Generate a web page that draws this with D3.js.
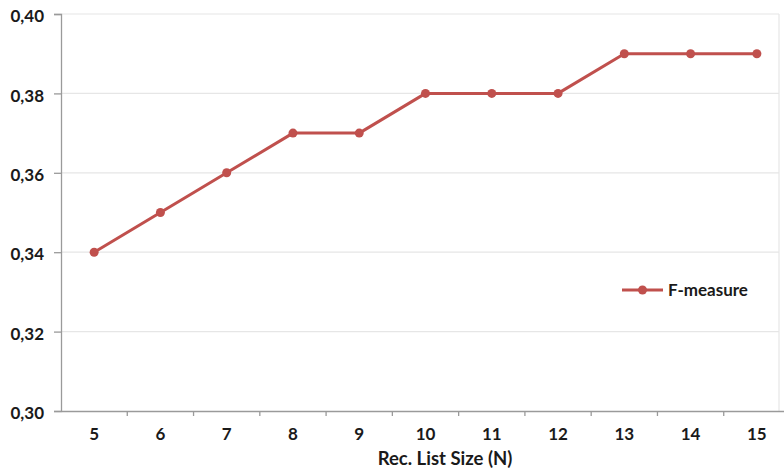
<!DOCTYPE html>
<html>
<head>
<meta charset="utf-8">
<script src="https://cdn.jsdelivr.net/npm/d3@7/dist/d3.min.js"></script>
<style>
  html, body { margin: 0; padding: 0; background: #fff; }
  svg { display: block; }
  text { font-family: Lato, "Open Sans", sans-serif; fill: #1a1a1a; }
</style>
</head>
<body>
<svg id="chart" width="784" height="471"></svg>
<script>
// Recommendation list sizes and the F-measure reached at each
const listSizes = [5, 6, 7, 8, 9, 10, 11, 12, 13, 14, 15];
const fMeasure = [0.34, 0.35, 0.36, 0.37, 0.37, 0.38, 0.38, 0.38, 0.39, 0.39, 0.39];
const yTicks = [0.30, 0.32, 0.34, 0.36, 0.38, 0.40];
const seriesName = "F-measure";
const xTitle = "Rec. List Size (N)";

const svg = d3.select("#chart");
const plotLeft = 61, plotTop = 14, plotBottom = 411, plotRight = 790, borderX = 779;
const red = "#c0504d";

const x = d3.scaleBand().domain(listSizes).range([plotLeft, plotRight]).padding(0);
const y = d3.scaleLinear().domain([0.30, 0.40]).range([plotBottom, plotTop]);

// light horizontal gridlines
svg.append("g").selectAll("line").data(yTicks.slice(1)).join("line")
  .attr("x1", plotLeft).attr("x2", borderX)
  .attr("y1", d => y(d)).attr("y2", d => y(d))
  .attr("stroke", "#e6e6e6").attr("stroke-width", 1.2);

// right border of plot area
svg.append("line").attr("x1", borderX).attr("x2", borderX).attr("y1", plotTop).attr("y2", plotBottom)
  .attr("stroke", "#e6e6e6").attr("stroke-width", 1.2);

// y axis
const yAxis = svg.append("g").attr("transform", `translate(${plotLeft},0)`)
  .call(d3.axisLeft(y).tickValues(yTicks).tickSize(7).tickPadding(10)
    .tickFormat(d => d3.format(".2f")(d).replace(".", ",")));
yAxis.select(".domain").attr("stroke", "#9a9a9a").attr("stroke-width", 1.3);
yAxis.selectAll(".tick line").attr("stroke", "#9a9a9a").attr("stroke-width", 1.3);
yAxis.selectAll(".tick text").style("font-size", "17px").style("font-weight", "700")
  .attr("fill", "#1a1a1a").attr("dy", "0.45em");

// x axis: ticks sit between categories
const xAxis = svg.append("g").attr("transform", `translate(0,${plotBottom})`)
  .call(d3.axisBottom(x).tickSizeOuter(0).tickSize(0).tickPadding(17));
xAxis.select(".domain").attr("stroke", "#9a9a9a").attr("stroke-width", 1.3);
xAxis.selectAll(".tick text").style("font-size", "17px").style("font-weight", "700")
  .attr("fill", "#1a1a1a");
xAxis.selectAll(".tick").append("line")
  .attr("x1", x.bandwidth() / 2).attr("x2", x.bandwidth() / 2)
  .attr("y1", 0).attr("y2", 5)
  .attr("stroke", "#9a9a9a").attr("stroke-width", 1.3);

svg.append("text").attr("x", 445).attr("y", 465).attr("text-anchor", "middle")
  .style("font-size", "18.5px").style("font-weight", "700").text(xTitle);

// series line with round markers
const cx = (d, i) => x(listSizes[i]) + x.bandwidth() / 2;
const line = d3.line().x(cx).y(d => y(d));
svg.append("path").datum(fMeasure).attr("d", line)
  .attr("fill", "none").attr("stroke", red).attr("stroke-width", 3)
  .attr("stroke-linejoin", "round");
svg.append("g").selectAll("circle").data(fMeasure).join("circle")
  .attr("cx", cx).attr("cy", d => y(d)).attr("r", 4.5).attr("fill", red);

// legend
const lg = svg.append("g").attr("transform", "translate(622,290)");
lg.append("line").attr("x1", 0).attr("x2", 41).attr("stroke", red).attr("stroke-width", 3);
lg.append("circle").attr("cx", 20.5).attr("r", 4.5).attr("fill", red);
lg.append("text").attr("x", 46).attr("y", 6).style("font-size", "17px").style("font-weight", "700")
  .text(seriesName);
</script>
</body>
</html>
